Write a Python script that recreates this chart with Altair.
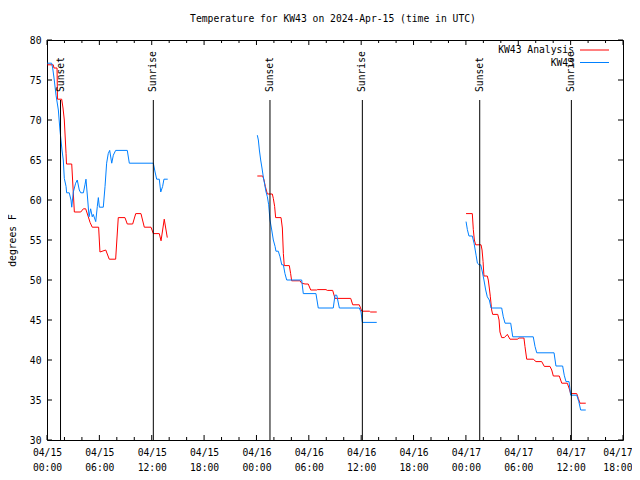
import altair as alt
import pandas as pd

FONT = "DejaVu Sans Mono"
FS = 9.7

# ---------------- data ----------------
series_names = ["KW43 Analysis", "KW43"]
series_colors = ["#ff0000", "#0080ff"]

# KW43 Analysis (red), three segments
red_t = [
    ["2024-04-15T00:02", "2024-04-15T00:43", "2024-04-15T00:48", "2024-04-15T01:09", "2024-04-15T01:12",
     "2024-04-15T01:41", "2024-04-15T01:50", "2024-04-15T01:59", "2024-04-15T02:11", "2024-04-15T02:14",
     "2024-04-15T02:50", "2024-04-15T03:08", "2024-04-15T03:52", "2024-04-15T04:10", "2024-04-15T04:26",
     "2024-04-15T04:44", "2024-04-15T04:56", "2024-04-15T05:11", "2024-04-15T05:55", "2024-04-15T06:04",
     "2024-04-15T06:44", "2024-04-15T07:08", "2024-04-15T07:52", "2024-04-15T08:10", "2024-04-15T08:56",
     "2024-04-15T09:12", "2024-04-15T09:49", "2024-04-15T10:10", "2024-04-15T10:46", "2024-04-15T11:09",
     "2024-04-15T11:55", "2024-04-15T12:11", "2024-04-15T12:52", "2024-04-15T13:04", "2024-04-15T13:26",
     "2024-04-15T13:47"],
    ["2024-04-16T00:06", "2024-04-16T00:43", "2024-04-16T00:52", "2024-04-16T01:01", "2024-04-16T01:15",
     "2024-04-16T01:49", "2024-04-16T01:56", "2024-04-16T02:05", "2024-04-16T02:12", "2024-04-16T02:49",
     "2024-04-16T02:58", "2024-04-16T03:05", "2024-04-16T03:11", "2024-04-16T03:46", "2024-04-16T03:55",
     "2024-04-16T04:02", "2024-04-16T04:59", "2024-04-16T05:11", "2024-04-16T05:34", "2024-04-16T05:56",
     "2024-04-16T06:13", "2024-04-16T06:54", "2024-04-16T06:58", "2024-04-16T07:58", "2024-04-16T08:07",
     "2024-04-16T08:44", "2024-04-16T09:00", "2024-04-16T10:48", "2024-04-16T11:02", "2024-04-16T11:47",
     "2024-04-16T12:04", "2024-04-16T12:56", "2024-04-16T13:05", "2024-04-16T13:47"],
    ["2024-04-17T00:01", "2024-04-17T00:44", "2024-04-17T00:51", "2024-04-17T00:58", "2024-04-17T01:07",
     "2024-04-17T01:44", "2024-04-17T01:51", "2024-04-17T01:58", "2024-04-17T02:04", "2024-04-17T02:27",
     "2024-04-17T02:34", "2024-04-17T02:41", "2024-04-17T02:48", "2024-04-17T02:57", "2024-04-17T03:04",
     "2024-04-17T03:39", "2024-04-17T03:48", "2024-04-17T03:54", "2024-04-17T04:06", "2024-04-17T04:24",
     "2024-04-17T04:45", "2024-04-17T05:03", "2024-04-17T05:56", "2024-04-17T06:03", "2024-04-17T06:39",
     "2024-04-17T06:46", "2024-04-17T06:58", "2024-04-17T07:43", "2024-04-17T08:02", "2024-04-17T08:41",
     "2024-04-17T08:59", "2024-04-17T09:38", "2024-04-17T09:50", "2024-04-17T10:01", "2024-04-17T10:42",
     "2024-04-17T10:59", "2024-04-17T11:37", "2024-04-17T11:49", "2024-04-17T12:00", "2024-04-17T12:42",
     "2024-04-17T12:53", "2024-04-17T13:04", "2024-04-17T13:44"],
]
red_v = [
    [76.9, 76.9, 76.5, 76.5, 72.6, 72.6, 71.5, 70.0, 65.8, 64.5, 64.5, 58.5, 58.5, 58.9, 58.9, 57.9, 57.2,
     56.6, 56.6, 53.5, 53.75, 52.6, 52.6, 57.8, 57.8, 57.0, 57.0, 58.3, 58.3, 56.6, 56.6, 55.8, 55.8, 54.9,
     57.6, 55.3],
    [63.0, 63.0, 62.5, 61.7, 60.75, 60.75, 60.2, 59.2, 57.8, 57.8, 56.5, 53.3, 51.8, 51.8, 50.8, 49.9, 49.9,
     49.6, 49.5, 49.5, 48.75, 48.75, 48.8, 48.8, 48.7, 48.7, 47.7, 47.7, 46.9, 46.9, 46.1, 46.1, 46.0, 46.0],
    [58.3, 58.3, 56.3, 55.0, 54.4, 54.4, 53.75, 52.3, 50.5, 50.5, 50.0, 49.0, 47.9, 46.25, 45.7, 45.7, 45.0,
     43.5, 42.8, 42.8, 43.2, 42.6, 42.6, 42.75, 42.75, 41.7, 40.1, 40.1, 39.8, 39.8, 39.2, 39.2, 38.75, 38.0,
     38.0, 37.1, 37.1, 36.5, 35.8, 35.8, 35.2, 34.6, 34.6],
]

# KW43 (blue), three segments
blue_t = [
    ["2024-04-15T00:02", "2024-04-15T00:32", "2024-04-15T00:39", "2024-04-15T00:50", "2024-04-15T01:02",
     "2024-04-15T01:18", "2024-04-15T01:29", "2024-04-15T01:43", "2024-04-15T01:52", "2024-04-15T01:59",
     "2024-04-15T02:11", "2024-04-15T02:15", "2024-04-15T02:33", "2024-04-15T02:45", "2024-04-15T02:50",
     "2024-04-15T03:01", "2024-04-15T03:17", "2024-04-15T03:28", "2024-04-15T03:42", "2024-04-15T03:52",
     "2024-04-15T04:10", "2024-04-15T04:21", "2024-04-15T04:28", "2024-04-15T04:40", "2024-04-15T04:49",
     "2024-04-15T05:00", "2024-04-15T05:11", "2024-04-15T05:18", "2024-04-15T05:35", "2024-04-15T05:46",
     "2024-04-15T05:53", "2024-04-15T06:00", "2024-04-15T06:27", "2024-04-15T06:39", "2024-04-15T06:50",
     "2024-04-15T07:01", "2024-04-15T07:11", "2024-04-15T07:25", "2024-04-15T07:36", "2024-04-15T07:52",
     "2024-04-15T09:12", "2024-04-15T09:26", "2024-04-15T12:11", "2024-04-15T12:23", "2024-04-15T12:34",
     "2024-04-15T12:52", "2024-04-15T13:02", "2024-04-15T13:15", "2024-04-15T13:24", "2024-04-15T13:50"],
    ["2024-04-16T00:06", "2024-04-16T00:13", "2024-04-16T00:20", "2024-04-16T00:29", "2024-04-16T00:38",
     "2024-04-16T00:47", "2024-04-16T00:57", "2024-04-16T01:06", "2024-04-16T01:15", "2024-04-16T01:24",
     "2024-04-16T01:33", "2024-04-16T01:45", "2024-04-16T01:56", "2024-04-16T02:08", "2024-04-16T02:14",
     "2024-04-16T02:30", "2024-04-16T02:42", "2024-04-16T02:54", "2024-04-16T03:05", "2024-04-16T03:16",
     "2024-04-16T03:28", "2024-04-16T05:11", "2024-04-16T05:22", "2024-04-16T06:49", "2024-04-16T07:05",
     "2024-04-16T08:48", "2024-04-16T09:00", "2024-04-16T09:12", "2024-04-16T09:30", "2024-04-16T11:47",
     "2024-04-16T11:59", "2024-04-16T12:08", "2024-04-16T13:47"],
    ["2024-04-17T00:01", "2024-04-17T00:10", "2024-04-17T00:21", "2024-04-17T00:44", "2024-04-17T00:56",
     "2024-04-17T01:10", "2024-04-17T01:19", "2024-04-17T01:31", "2024-04-17T01:42", "2024-04-17T01:53",
     "2024-04-17T02:04", "2024-04-17T02:16", "2024-04-17T02:27", "2024-04-17T02:41", "2024-04-17T02:53",
     "2024-04-17T04:06", "2024-04-17T04:17", "2024-04-17T04:29", "2024-04-17T05:08", "2024-04-17T05:22",
     "2024-04-17T07:43", "2024-04-17T07:55", "2024-04-17T08:07", "2024-04-17T10:06", "2024-04-17T10:19",
     "2024-04-17T11:05", "2024-04-17T11:16", "2024-04-17T11:28", "2024-04-17T11:49", "2024-04-17T12:00",
     "2024-04-17T12:42", "2024-04-17T12:56", "2024-04-17T13:09", "2024-04-17T13:44"],
]
blue_v = [
    [77.1, 77.1, 76.5, 75.0, 73.1, 71.25, 68.75, 66.25, 65.0, 62.7, 61.7, 60.9, 60.9, 60.0, 59.1, 61.0, 62.1,
     62.5, 61.25, 60.9, 60.9, 61.9, 62.6, 60.0, 57.9, 58.9, 57.9, 58.2, 57.3, 59.2, 60.3, 59.1, 59.1, 61.7,
     64.6, 65.8, 66.2, 64.6, 65.6, 66.2, 66.2, 64.6, 64.6, 63.5, 62.6, 62.6, 61.0, 61.7, 62.6, 62.6],
    [68.1, 67.5, 66.25, 65.0, 64.0, 62.9, 61.9, 61.0, 60.4, 59.4, 57.5, 56.25, 55.0, 54.2, 53.6, 53.6, 52.9,
     51.9, 51.9, 50.8, 50.0, 50.0, 48.3, 48.3, 46.5, 46.5, 48.1, 48.1, 46.5, 46.5, 46.0, 44.7, 44.7],
    [57.3, 56.3, 55.5, 55.5, 54.6, 53.1, 52.1, 51.9, 51.9, 51.0, 50.0, 48.75, 47.9, 47.5, 46.5, 46.5, 45.4,
     44.6, 44.6, 42.9, 42.9, 41.7, 40.9, 40.9, 39.25, 39.25, 38.1, 37.3, 37.3, 35.6, 35.6, 34.8, 33.75, 33.75],
]

event_times = ["2024-04-15T01:33", "2024-04-15T12:11", "2024-04-16T01:33",
               "2024-04-16T12:08", "2024-04-17T01:35", "2024-04-17T12:05"]
event_labels = ["Sunset", "Sunrise", "Sunset", "Sunrise", "Sunset", "Sunrise"]

major_x_ticks = ["2024-04-15T00:00", "2024-04-15T06:00", "2024-04-15T12:00", "2024-04-15T18:00",
                 "2024-04-16T00:00", "2024-04-16T06:00", "2024-04-16T12:00", "2024-04-16T18:00",
                 "2024-04-17T00:00", "2024-04-17T06:00", "2024-04-17T12:00", "2024-04-17T18:00"]
minor_x_ticks = ["2024-04-15T02:00", "2024-04-15T04:00", "2024-04-15T08:00", "2024-04-15T10:00",
                 "2024-04-15T14:00", "2024-04-15T16:00", "2024-04-15T20:00", "2024-04-15T22:00",
                 "2024-04-16T02:00", "2024-04-16T04:00", "2024-04-16T08:00", "2024-04-16T10:00",
                 "2024-04-16T14:00", "2024-04-16T16:00", "2024-04-16T20:00", "2024-04-16T22:00",
                 "2024-04-17T02:00", "2024-04-17T04:00", "2024-04-17T08:00", "2024-04-17T10:00",
                 "2024-04-17T14:00", "2024-04-17T16:00"]
y_ticks = [30, 35, 40, 45, 50, 55, 60, 65, 70, 75, 80]

# ---------------- build tables ----------------
def utc(s):
    return s + ":00Z"

def series_df(name, ts, vs):
    rows = []
    for i, (tt, vv) in enumerate(zip(ts, vs)):
        for t, v in zip(tt, vv):
            rows.append({"series": name, "seg": i, "t": utc(t), "temp": v})
    return pd.DataFrame(rows)

red_df = series_df(series_names[0], red_t, red_v)
blue_df = series_df(series_names[1], blue_t, blue_v)
events_df = pd.DataFrame({"t": [utc(t) for t in event_times], "label": event_labels})
major_df = pd.DataFrame({"t": [utc(t) for t in major_x_ticks]})
minor_df = pd.DataFrame({"t": [utc(t) for t in minor_x_ticks]})
yt_df = pd.DataFrame({"v": y_ticks})

W, H = 576, 400

x_dom = [alt.DateTime(year=2024, month=4, date=15, hours=0, utc=True),
         alt.DateTime(year=2024, month=4, date=17, hours=18, utc=True)]
x_scale = alt.Scale(type="utc", domain=x_dom)
y_scale = alt.Scale(domain=[30, 80], nice=False, zero=False)

x_axis = alt.Axis(
    values=[alt.DateTime(year=2024, month=4, date=15 + h // 24, hours=h % 24, utc=True)
            for h in range(0, 67, 6)],
    labelExpr="[utcFormat(datum.value, '%m/%d'), utcFormat(datum.value, '%H:%M')]",
    labelLineHeight=15, labelPadding=7, ticks=False, domain=False, grid=False,
    labelFont=FONT, labelFontSize=FS, labelColor="black", title=None,
    labelOverlap=False, labelFlush=False,
    labelAlign={"condition": {"test": "datum.index === 1", "value": "right"}, "value": "center"},
    labelOffset={"condition": {"test": "datum.index === 1", "value": 9}, "value": 0},
)
y_axis = alt.Axis(
    values=y_ticks, ticks=False, domain=False, grid=False, labelPadding=6,
    labelFont=FONT, labelFontSize=FS, labelColor="black", title="degrees F",
    titleFont=FONT, titleFontSize=FS, titleFontWeight="normal", titleColor="black",
    titlePadding=12,
)

def X(field):
    return alt.X(field, type="temporal", scale=x_scale, axis=x_axis)

def Y(field):
    return alt.Y(field, type="quantitative", scale=y_scale, axis=y_axis)

red_line = alt.Chart(red_df).mark_line(strokeWidth=1, color=series_colors[0]).encode(
    x=X("t"), y=Y("temp"), detail="seg:N",
)
blue_line = alt.Chart(blue_df).mark_line(strokeWidth=1, color=series_colors[1]).encode(
    x=X("t"), y=Y("temp"), detail="seg:N",
)

ev_rule = alt.Chart(events_df).mark_rule(color="black", strokeWidth=1).encode(
    x=X("t"), y=alt.value(60), y2=alt.value(H)
)
ev_text = alt.Chart(events_df).mark_text(
    angle=270, align="left", baseline="middle", font=FONT, fontSize=FS, color="black"
).encode(x=X("t"), y=alt.value(52), text="label:N")

def xticks(df, length):
    bot = alt.Chart(df).mark_rule(color="black", strokeWidth=1).encode(
        x=X("t"), y=alt.value(H), y2=alt.value(H - length))
    top = alt.Chart(df).mark_rule(color="black", strokeWidth=1).encode(
        x=X("t"), y=alt.value(0), y2=alt.value(length))
    return [bot, top]

yl = alt.Chart(yt_df).mark_rule(color="black", strokeWidth=1).encode(
    y=Y("v"), x=alt.value(0), x2=alt.value(5))
yr = alt.Chart(yt_df).mark_rule(color="black", strokeWidth=1).encode(
    y=Y("v"), x=alt.value(W), x2=alt.value(W - 5))

one = pd.DataFrame({"a": [0]})
legend_layers = []
for i, (name, col) in enumerate(zip(series_names, series_colors)):
    yy = 10 + 12.5 * i
    legend_layers.append(alt.Chart(one).mark_text(
        text=name, align="right", baseline="middle", font=FONT, fontSize=FS, color="black"
    ).encode(x=alt.value(527), y=alt.value(yy)))
    legend_layers.append(alt.Chart(one).mark_rule(color=col, strokeWidth=1).encode(
        x=alt.value(533), x2=alt.value(562), y=alt.value(yy)))

chart = alt.layer(
    red_line, blue_line, ev_rule, ev_text,
    *xticks(major_df, 5), *xticks(minor_df, 3), yl, yr,
    *legend_layers,
).properties(
    width=W, height=H,
    title=alt.TitleParams("Temperature for KW43 on 2024-Apr-15 (time in UTC)",
                          font=FONT, fontSize=FS, fontWeight="normal", color="black",
                          anchor="middle", offset=11, dx=-2),
    autosize=alt.AutoSizeParams(type="none"),
    padding={"left": 39, "top": 32, "right": 9, "bottom": 32},
    background="white",
).configure_view(stroke="black", strokeWidth=1)

chart.save("out.html", embed_options={"renderer": "svg", "actions": False})
